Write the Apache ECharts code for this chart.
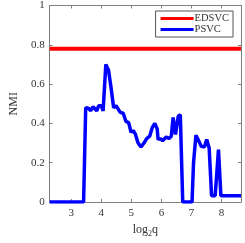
<!DOCTYPE html>
<html><head><meta charset="utf-8">
<script src="https://cdn.jsdelivr.net/npm/echarts@6/dist/echarts.min.js"></script>
<style>html,body{margin:0;padding:0;background:#fff}#c{width:245px;height:243px}</style>
</head><body><div id="c"></div>
<script>
var xTicks = [3, 4, 5, 6, 7, 8];
var yTicks = [0, 0.2, 0.4, 0.6, 0.8, 1];
var edsvcX = [2.28, 8.65];
var edsvcY = [0.78, 0.78];
var psvcX = [2.28,3.41,3.48,3.57,3.65,3.72,3.77,3.85,3.91,4.0,4.06,4.15,4.24,4.32,4.41,4.49,4.55,4.63,4.73,4.82,4.91,4.99,5.06,5.13,5.22,5.32,5.42,5.51,5.61,5.70,5.78,5.86,5.89,5.96,6.04,6.16,6.25,6.33,6.39,6.47,6.56,6.63,6.71,7.02,7.07,7.15,7.23,7.33,7.43,7.51,7.59,7.67,7.79,7.90,7.98,8.65];
var psvcY = [0,0,0.48,0.477,0.464,0.485,0.49,0.464,0.49,0.49,0.464,0.70,0.67,0.587,0.48,0.49,0.496,0.456,0.452,0.41,0.404,0.355,0.364,0.347,0.302,0.28,0.30,0.323,0.335,0.38,0.40,0.372,0.318,0.323,0.312,0.331,0.323,0.335,0.43,0.344,0.436,0.444,0,0,0.2,0.34,0.315,0.283,0.28,0.318,0.275,0.032,0.032,0.267,0.032,0.032];

function pairs(xs, ys){ return xs.map(function(x,i){return [x, ys[i]];}); }
var font = 'Liberation Serif';
var axisCol = '#808080';
var txtCol = '#333';
function xa(pos, show){
  return {type:'value', position:pos, min:2.28, max:8.65,
    axisLine:{show:true, onZero:false, lineStyle:{color:axisCol, width:1}},
    axisTick:{show:true, inside:true, length:3, customValues:xTicks, lineStyle:{color:axisCol}},
    axisLabel:{show:show, customValues:xTicks, color:txtCol, fontFamily:font, fontSize:11, margin:6},
    splitLine:{show:false},
    name: show ? 'log{s|2}q' : '', nameLocation:'middle', nameGap:20,
    nameTextStyle:{color:txtCol, fontFamily:font, fontSize:12, rich:{s:{fontSize:8, verticalAlign:'bottom', padding:[8,0,0,0], fontFamily:font, color:txtCol}}}
  };
}
function ya(pos, show){
  return {type:'value', position:pos, min:0, max:1, interval:0.2,
    axisLine:{show:true, onZero:false, lineStyle:{color:axisCol, width:1}},
    axisTick:{show:true, inside:true, length:3, lineStyle:{color:axisCol}},
    axisLabel:{show:show, color:txtCol, fontFamily:font, fontSize:11, margin:5,
      formatter:function(v){return String(Math.round(v*10)/10);}},
    splitLine:{show:false},
    name: show ? 'NMI' : '', nameLocation:'middle', nameGap:22, nameRotate:90,
    nameTextStyle:{color:txtCol, fontFamily:font, fontSize:12}
  };
}
var chart = echarts.init(document.getElementById('c'), null, {renderer:'canvas'});
chart.setOption({
  animation:false,
  backgroundColor:'#fff',
  grid:{left:35, right:4, top:2, bottom:35, containLabel:false},
  xAxis:[xa('bottom', true), xa('top', false)],
  yAxis:[ya('left', true), ya('right', false)],
  legend:{show:true, orient:'vertical', right:12, top:11, itemWidth:33, itemHeight:3, itemGap:0,
    padding:[2,4,2,5], borderColor:'#555', borderWidth:1, backgroundColor:'#fff',
    textStyle:{fontFamily:font, fontSize:10.5, lineHeight:11, color:txtCol, padding:[0,0,0,-4]},
    icon:'rect',
    data:[{name:'EDSVC'},{name:'PSVC'}]},
  series:[
    {name:'EDSVC', type:'line', data:pairs(edsvcX, edsvcY), symbol:'none', color:'#ff0000', lineStyle:{width:4, color:'#ff0000'}},
    {name:'PSVC', type:'line', data:pairs(psvcX, psvcY), symbol:'none', color:'#0000ff', lineStyle:{width:3.5, color:'#0000ff'}}
  ]
});
</script></body></html>
